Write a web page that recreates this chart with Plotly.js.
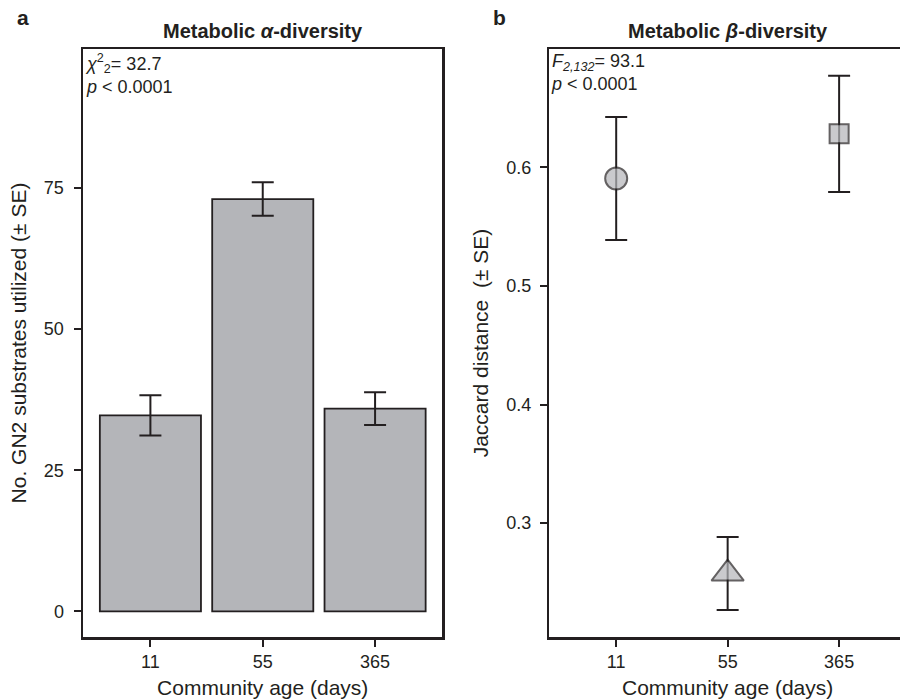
<!DOCTYPE html>
<html>
<head>
<meta charset="utf-8">
<script src="https://cdn.plot.ly/plotly-3.0.1.min.js"></script>
<style>
html,body{margin:0;padding:0;overflow:hidden;background:#fff;}
#chart{width:910px;height:699px;}
</style>
</head>
<body>
<div id="chart"></div>
<script>
// Data
var ages = ["11", "55", "365"];
var substrates = [34.7, 73.0, 35.9];
var substratesSE = [3.55, 2.95, 2.9];
var jaccard = [0.5905, 0.2575, 0.6282];
var jaccardSE = [0.0518, 0.0308, 0.049];
var jaccardSymbols = ["circle", "triangle-up", "square"];
var jaccardSizes = [22, 28, 19];

var ink = "#231f20";
var grey = "#b4b5b9";
var fontFam = "Liberation Sans, Arial, Helvetica, sans-serif";

var traces = [
  {
    type: "bar",
    x: ages,
    y: substrates,
    xaxis: "x", yaxis: "y",
    width: 0.9,
    marker: {color: grey, line: {color: ink, width: 1.8}},
    error_y: {type: "data", array: substratesSE, visible: true, color: ink, thickness: 2, width: 11},
    hoverinfo: "skip",
    showlegend: false
  },
  {
    type: "scatter",
    mode: "markers",
    x: ages,
    y: jaccard,
    xaxis: "x2", yaxis: "y2",
    marker: {symbol: jaccardSymbols, size: jaccardSizes, color: grey, line: {color: ink, width: 2}},
    error_y: {type: "data", array: jaccardSE, visible: true, color: ink, thickness: 2, width: 11},
    hoverinfo: "skip",
    showlegend: false
  }
];

var axisCommon = {
  showline: true, mirror: true, linecolor: ink, linewidth: 2.5,
  ticks: "outside", ticklen: 7, tickwidth: 2, tickcolor: ink,
  showgrid: false, zeroline: false, automargin: false,
  tickfont: {family: fontFam, size: 18, color: ink}
};

function ax(extra) { return Object.assign({}, axisCommon, extra); }

var titleFont = {family: fontFam, size: 21, color: ink};

var layout = {
  width: 910, height: 699,
  margin: {l: 83, r: 4, t: 49, b: 62},
  paper_bgcolor: "#fff", plot_bgcolor: "#fff",
  font: {family: fontFam, color: ink},
  bargap: 0,
  xaxis: ax({domain: [0, 0.4368], type: "category", range: [-0.6, 2.6], anchor: "y",
    title: {text: "Community age (days)", font: titleFont, standoff: 11}}),
  yaxis: ax({domain: [0, 1], range: [-4.53, 99.56], anchor: "x", tickvals: [0, 25, 50, 75],
    ticklabelstandoff: 6,
    title: {text: "No. GN2 substrates utilized (± SE)", font: titleFont, standoff: 12}}),
  xaxis2: ax({domain: [0.5666, 1], type: "category", range: [-0.6, 2.6], anchor: "y2",
    title: {text: "Community age (days)", font: titleFont, standoff: 11}}),
  yaxis2: ax({domain: [0, 1], range: [0.204, 0.6997], anchor: "x2", tickvals: [0.3, 0.4, 0.5, 0.6],
    ticklabelstandoff: 5,
    title: {text: "Jaccard distance&nbsp; (± SE)", font: titleFont, standoff: 12}}),
  annotations: [
    {text: "<b>a</b>", xref: "paper", yref: "paper", x: -0.083, y: 1.053, xanchor: "left", yanchor: "middle", showarrow: false, font: {family: fontFam, size: 21, color: ink}},
    {text: "<b>b</b>", xref: "paper", yref: "paper", x: 0.496, y: 1.053, xanchor: "left", yanchor: "middle", showarrow: false, font: {family: fontFam, size: 21, color: ink}},
    {text: "<b>Metabolic <i>α</i>-diversity</b>", xref: "x domain", yref: "paper", x: 0.5, y: 1.03, xanchor: "center", yanchor: "middle", showarrow: false, font: {family: fontFam, size: 20, color: ink}},
    {text: "<b>Metabolic <i>β</i>-diversity</b>", xref: "x2 domain", yref: "paper", x: 0.5, y: 1.03, xanchor: "center", yanchor: "middle", showarrow: false, font: {family: fontFam, size: 20, color: ink}},
    {text: "<i>χ</i><sup>2</sup><sub>2</sub>= 32.7<br><i>p</i> < 0.0001", xref: "x domain", yref: "paper", x: 0, y: 1.0, xanchor: "left", yanchor: "top", align: "left", showarrow: false, font: {family: fontFam, size: 18, color: ink}},
    {text: "<i>F</i><sub><i>2,132</i></sub>= 93.1<br><i>p</i> < 0.0001", xref: "x2 domain", yref: "paper", x: 0, y: 1.0, xanchor: "left", yanchor: "top", align: "left", showarrow: false, font: {family: fontFam, size: 18, color: ink}}
  ]
};

Plotly.newPlot("chart", traces, layout, {staticPlot: true, displayModeBar: false});
</script>
</body>
</html>
